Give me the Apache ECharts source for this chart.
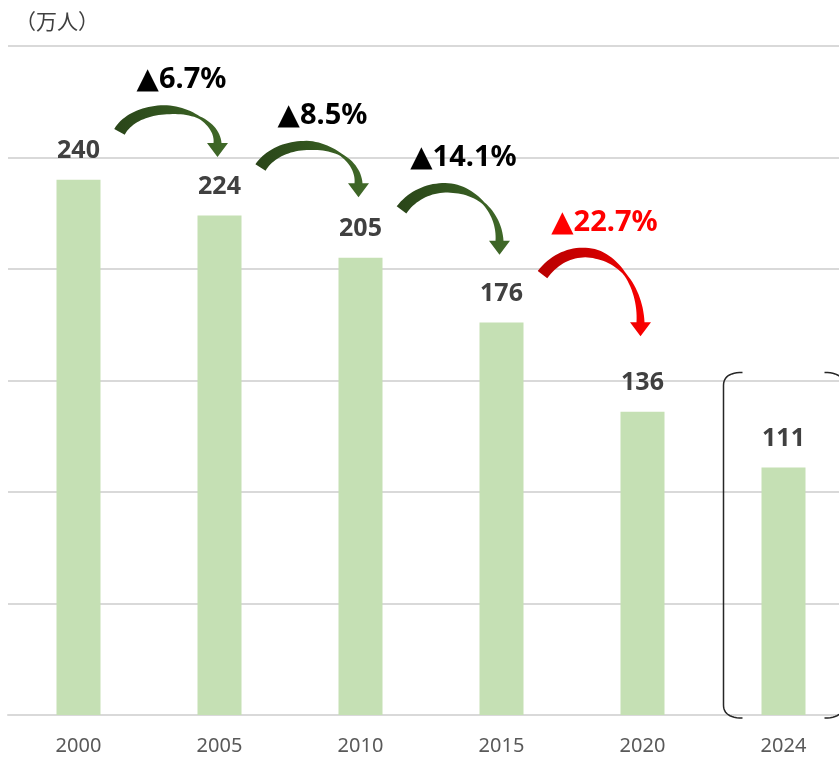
<!DOCTYPE html>
<html>
<head>
<meta charset="utf-8">
<script src="https://cdn.jsdelivr.net/npm/echarts@6/dist/echarts.min.js"></script>
<style>
html,body{margin:0;padding:0;background:#fff;overflow:hidden;width:839px;height:757px;}
#chart{width:856px;height:757px;}
</style>
</head>
<body>
<div id="chart"></div>
<script>
const categories = ['2000', '2005', '2010', '2015', '2020', '2024'];
const values = [240, 224, 205, 176, 136, 111];
const changeRates = [6.7, 8.5, 14.1, 22.7];
const unitLabel = '（万人）';
const highlightCategory = '2024';

const arrowData = changeRates.map((c, i) => [i, values[i], values[i + 1], c]);
const bracketIdx = categories.indexOf(highlightCategory);

function widthAt(s) {
  const pts = [[0, 12], [0.45, 9], [0.68, 2.5], [1, 8]];
  for (let k = 0; k < pts.length - 1; k++) {
    if (s <= pts[k + 1][0]) {
      const f = (s - pts[k][0]) / (pts[k + 1][0] - pts[k][0]);
      return pts[k][1] + f * (pts[k + 1][1] - pts[k][1]);
    }
  }
  return pts[pts.length - 1][1];
}

function renderArrow(params, api) {
  const i = api.value(0);
  const a = api.coord([i, api.value(1)]);
  const b = api.coord([i + 1, api.value(2)]);
  const pct = api.value(3);
  const red = pct > 20;
  const drop = b[1] - a[1];
  const S = [a[0] + 41, a[1] - 48];
  const T = [b[0] - 2, b[1] - 47 - 0.32 * drop];
  const headLen = 14, hw = 10.5;
  const B = [T[0], T[1] - headLen];
  const peakY = S[1] - 22;
  const cy = B[1];
  const ry = cy - peakY;
  let sinS = (cy - S[1]) / ry;
  sinS = Math.max(-1, Math.min(1, sinS));
  const tS = Math.PI - Math.asin(sinS);
  const rx = (B[0] - S[0]) / (1 - Math.cos(tS));
  const cx = B[0] - rx;
  const n = 48;
  const outer = [], inner = [];
  let lastN = [1, 0];
  for (let k = 0; k <= n; k++) {
    const s = k / n;
    const t = tS * (1 - s);
    const P = [cx + rx * Math.cos(t), cy - ry * Math.sin(t)];
    let D = [rx * Math.sin(t), ry * Math.cos(t)];
    const len = Math.hypot(D[0], D[1]) || 1;
    D = [D[0] / len, D[1] / len];
    const N = [D[1], -D[0]];
    lastN = N;
    const w = widthAt(s) / 2;
    outer.push([P[0] + N[0] * w, P[1] + N[1] * w]);
    inner.push([P[0] - N[0] * w, P[1] - N[1] * w]);
  }
  const pts = outer.concat(
    [[B[0] + lastN[0] * hw, B[1] + lastN[1] * hw], [T[0], T[1]], [B[0] - lastN[0] * hw, B[1] - lastN[1] * hw]],
    inner.reverse()
  );
  const grad = new echarts.graphic.LinearGradient(0, 0, 1, 0, red ?
    [{offset: 0, color: '#b80000'}, {offset: 0.5, color: '#d00000'}, {offset: 1, color: '#ff0000'}] :
    [{offset: 0, color: '#2a4519'}, {offset: 0.5, color: '#33561f'}, {offset: 1, color: '#416a29'}]);
  return {
    type: 'group',
    children: [
      {type: 'polygon', shape: {points: pts}, style: {fill: grad}},
      {
        type: 'text',
        style: {
          x: (S[0] + T[0]) / 2 + 13,
          y: S[1] - 52,
          text: '▲' + pct.toFixed(1) + '%',
          fill: red ? '#ff0000' : '#000000',
          fontSize: 29,
          fontWeight: 'bold',
          fontFamily: '"Noto Sans", "DejaVu Sans", sans-serif',
          align: 'center',
          verticalAlign: 'middle'
        }
      }
    ]
  };
}

function cornerPts(cx0, cy0, x0, y0, x1, y1) {
  const out = [];
  for (let k = 0; k <= 12; k++) {
    const t = k / 12;
    out.push([
      (1 - t) * (1 - t) * x0 + 2 * (1 - t) * t * cx0 + t * t * x1,
      (1 - t) * (1 - t) * y0 + 2 * (1 - t) * t * cy0 + t * t * y1
    ]);
  }
  return out;
}

function renderBracket(params, api) {
  const p = api.coord([api.value(0), api.value(1)]);
  const base = api.coord([api.value(0), 0]);
  const L = p[0] - 60, R = p[0] + 60, top = p[1] - 95, bot = base[1] + 3;
  const hx = 19, vy = 13;
  const left = cornerPts(L, top, L + hx, top, L, top + vy).concat(cornerPts(L, bot, L, bot - vy, L + hx, bot));
  const right = cornerPts(R, top, R - hx, top, R, top + vy).concat(cornerPts(R, bot, R, bot - vy, R - hx, bot));
  const st = {fill: 'none', stroke: '#262626', lineWidth: 1.5};
  return {
    type: 'group',
    children: [
      {type: 'polyline', shape: {points: left}, style: st},
      {type: 'polyline', shape: {points: right}, style: st}
    ]
  };
}

const chart = echarts.init(document.getElementById('chart'), null, {renderer: 'canvas'});
chart.setOption({
  animation: false,
  backgroundColor: '#ffffff',
  title: {
    text: unitLabel,
    left: 10,
    top: 6,
    textStyle: {
      fontSize: 21,
      fontWeight: 'normal',
      color: '#404040',
      fontFamily: '"Noto Sans CJK JP", sans-serif'
    }
  },
  grid: {left: 8, top: 46, width: 846, height: 669, containLabel: false},
  xAxis: {
    type: 'category',
    data: categories,
    axisLine: {show: true, lineStyle: {color: '#d9d9d9', width: 2}},
    axisTick: {show: false},
    axisLabel: {
      color: '#595959',
      fontSize: 20,
      margin: 21,
      fontFamily: '"Noto Sans", sans-serif'
    }
  },
  yAxis: {
    type: 'value',
    min: 0,
    max: 300,
    interval: 50,
    axisLine: {show: false},
    axisTick: {show: false},
    axisLabel: {show: false},
    splitLine: {lineStyle: {color: '#d9d9d9', width: 2}}
  },
  series: [
    {
      type: 'bar',
      data: values,
      barWidth: 44,
      itemStyle: {color: '#c5e0b4'},
      label: {
        show: true,
        position: 'top',
        distance: 16,
        color: '#404040',
        fontSize: 25,
        fontWeight: 'bold',
        fontFamily: '"Noto Sans", sans-serif'
      },
      silent: true
    },
    {
      type: 'custom',
      coordinateSystem: 'cartesian2d',
      renderItem: renderArrow,
      data: arrowData,
      encode: {x: 0, y: 1},
      silent: true,
      z: 5
    },
    {
      type: 'custom',
      coordinateSystem: 'cartesian2d',
      renderItem: renderBracket,
      data: [[bracketIdx, values[bracketIdx]]],
      encode: {x: 0, y: 1},
      silent: true,
      z: 5
    }
  ]
});
</script>
</body>
</html>
